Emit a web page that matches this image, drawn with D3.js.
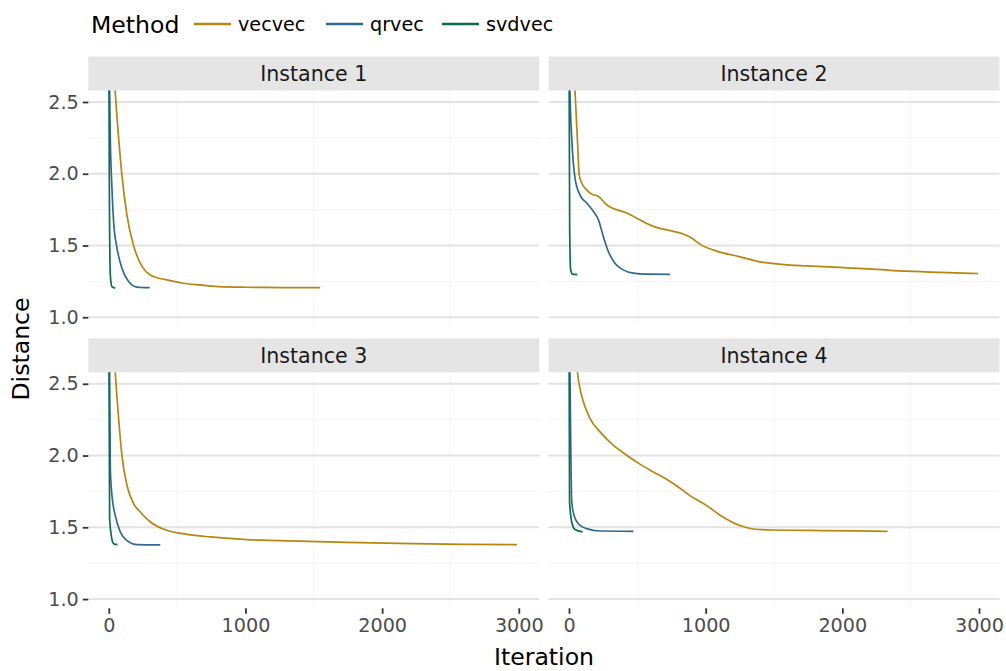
<!DOCTYPE html>
<html>
<head>
<meta charset="utf-8">
<script src="https://cdn.jsdelivr.net/npm/d3@7"></script>
<style>
  body { margin: 0; background: white; }
  text { font-family: "DejaVu Sans", sans-serif; }
</style>
</head>
<body>
<div id="chart"></div>
<script>
// methods and colours
const methods = ['vecvec', 'qrvec', 'svdvec'];
const methodColors = ['#b5870f', '#2f6b8f', '#0b6e4f'];
const instances = ['Instance 1', 'Instance 2', 'Instance 3', 'Instance 4'];

// [iteration, distance]
const inst1_vecvec = [[0, 4.0], [20, 3.1], [47, 2.575], [72, 2.25], [96, 1.99], [133, 1.71], [181, 1.5], [243, 1.355], [304, 1.295], [425, 1.26], [547, 1.237], [669, 1.225], [803, 1.214], [1000, 1.209], [1250, 1.207], [1547, 1.206]];
const inst1_qrvec = [[0, 3.2], [6, 2.575], [11, 2.25], [23, 1.9], [35, 1.668], [60, 1.482], [96, 1.342], [145, 1.249], [206, 1.21], [250, 1.207], [299, 1.206]];
const inst1_svdvec = [[0, 3.0], [4, 1.9], [11, 1.295], [23, 1.214], [47, 1.203]];

const inst2_vecvec = [[0, 4.0], [20, 3.2], [44, 2.575], [61, 2.25], [75, 1.99], [93, 1.935], [129, 1.888], [166, 1.858], [215, 1.842], [276, 1.784], [422, 1.726], [617, 1.633], [763, 1.598], [830, 1.582], [900, 1.55], [960, 1.508], [1080, 1.461], [1251, 1.421], [1397, 1.386], [1617, 1.363], [1739, 1.358], [1982, 1.347], [2226, 1.335], [2470, 1.321], [2714, 1.312], [2994, 1.305]];
const inst2_qrvec = [[0, 3.2], [7, 2.575], [20, 2.25], [44, 1.97], [80, 1.853], [129, 1.796], [178, 1.738], [215, 1.679], [251, 1.563], [288, 1.458], [336, 1.377], [397, 1.33], [470, 1.307], [568, 1.3], [739, 1.299]];
const inst2_svdvec = [[0, 3.0], [5, 1.6], [12, 1.33], [25, 1.3], [61, 1.297]];

const inst3_vecvec = [[0, 4.0], [20, 3.1], [47, 2.584], [72, 2.258], [96, 2.0], [133, 1.793], [181, 1.665], [230, 1.607], [304, 1.537], [425, 1.479], [572, 1.451], [743, 1.433], [1011, 1.414], [1255, 1.407], [1743, 1.395], [2230, 1.386], [2596, 1.381], [2986, 1.379]];
const inst3_qrvec = [[0, 3.2], [6, 2.584], [11, 1.909], [23, 1.723], [47, 1.583], [84, 1.468], [133, 1.407], [206, 1.379], [377, 1.377]];
const inst3_svdvec = [[0, 3.0], [6, 1.56], [18, 1.444], [35, 1.386], [64, 1.379]];

const inst4_vecvec = [[0, 4.0], [20, 3.3], [40, 2.85], [61, 2.584], [80, 2.468], [105, 2.375], [154, 2.258], [227, 2.165], [324, 2.072], [422, 2.002], [519, 1.94], [617, 1.886], [714, 1.835], [800, 1.781], [885, 1.721], [1007, 1.651], [1129, 1.57], [1251, 1.512], [1348, 1.488], [1495, 1.481], [1860, 1.477], [2331, 1.472]];
const inst4_qrvec = [[0, 3.2], [7, 2.584], [20, 1.677], [37, 1.583], [68, 1.525], [129, 1.491], [227, 1.474], [471, 1.472]];
const inst4_svdvec = [[0, 3.0], [4, 1.677], [20, 1.537], [44, 1.484], [100, 1.468]];

const xTicks = [0, 1000, 2000, 3000];
const xMinor = [500, 1500, 2500];
const yTicks = [1.0, 1.5, 2.0, 2.5];
const yMinor = [1.25, 1.75, 2.25];

const series = [
    [inst1_vecvec, inst1_qrvec, inst1_svdvec],
    [inst2_vecvec, inst2_qrvec, inst2_svdvec],
    [inst3_vecvec, inst3_qrvec, inst3_svdvec],
    [inst4_vecvec, inst4_qrvec, inst4_svdvec]
];

const width = 1006;
const height = 671;
const panelW = 451;
const plotH = 234.5;
const stripH = 34;
const panelX = [88.3, 548.5];
const stripY = [56.5, 338.3];

const svg = d3.select('#chart')
    .append('svg')
    .attr('width', width)
    .attr('height', height);

const x = d3.scaleLinear().domain([-150, 3150]).range([0, panelW]);
const y = d3.scaleLinear().domain([0.946, 2.58]).range([plotH, 0]);

const line = d3.line()
    .x(function (d) { return x(d[0]); })
    .y(function (d) { return y(d[1]); })
    .curve(d3.curveMonotoneX);

instances.forEach(function (name, i) {
    const col = i % 2;
    const row = Math.floor(i / 2);
    const g = svg.append('g')
        .attr('transform', 'translate(' + panelX[col] + ',' + stripY[row] + ')');

    // strip
    g.append('rect')
        .attr('width', panelW)
        .attr('height', stripH)
        .attr('fill', '#e5e5e5');
    g.append('text')
        .attr('x', panelW / 2)
        .attr('y', stripH / 2 + 7.5)
        .attr('text-anchor', 'middle')
        .attr('font-size', 20.6)
        .attr('fill', '#1a1a1a')
        .text(name);

    const p = g.append('g').attr('transform', 'translate(0,' + stripH + ')');

    p.append('clipPath')
        .attr('id', 'clip' + i)
        .append('rect')
        .attr('width', panelW)
        .attr('height', plotH);

    // grid
    p.selectAll('.xminor').data(xMinor).enter().append('line')
        .attr('x1', x).attr('x2', x)
        .attr('y1', 0).attr('y2', plotH)
        .attr('stroke', '#f6f6f6').attr('stroke-width', 1);
    p.selectAll('.yminor').data(yMinor).enter().append('line')
        .attr('x1', 0).attr('x2', panelW)
        .attr('y1', y).attr('y2', y)
        .attr('stroke', '#f4f4f4').attr('stroke-width', 1);
    p.selectAll('.ymajor').data(yTicks).enter().append('line')
        .attr('x1', 0).attr('x2', panelW)
        .attr('y1', y).attr('y2', y)
        .attr('stroke', '#e3e3e3').attr('stroke-width', 2);

    // lines
    const lines = p.append('g').attr('clip-path', 'url(#clip' + i + ')');
    series[i].forEach(function (data, m) {
        lines.append('path')
            .datum(data)
            .attr('fill', 'none')
            .attr('stroke', methodColors[m])
            .attr('stroke-width', 1.7)
            .attr('d', line);
    });

    // y axis on left column
    if (col === 0) {
        const ya = p.append('g')
            .call(d3.axisLeft(y).tickValues(yTicks).tickFormat(d3.format('.1f')).tickSize(5.5).tickPadding(4));
        ya.select('.domain').remove();
        ya.selectAll('line').attr('stroke', '#333').attr('stroke-width', 1.8);
        ya.selectAll('text').attr('font-size', 19.2).attr('fill', '#4d4d4d')
            .attr('font-family', '"DejaVu Sans", sans-serif');
    }
    // x axis on bottom row
    if (row === 1) {
        const xa = p.append('g')
            .attr('transform', 'translate(0,' + (plotH + 1.5) + ')')
            .call(d3.axisBottom(x).tickValues(xTicks).tickFormat(d3.format('d')).tickSize(5.5).tickPadding(5));
        xa.select('.domain').remove();
        xa.selectAll('line').attr('stroke', '#333').attr('stroke-width', 1.8);
        xa.selectAll('text').attr('font-size', 19.2).attr('fill', '#4d4d4d')
            .attr('font-family', '"DejaVu Sans", sans-serif');
    }
});

// axis titles
svg.append('text')
    .attr('x', 544)
    .attr('y', 665)
    .attr('text-anchor', 'middle')
    .attr('font-size', 23.6)
    .attr('fill', 'black')
    .text('Iteration');

svg.append('text')
    .attr('transform', 'translate(29,349) rotate(-90)')
    .attr('text-anchor', 'middle')
    .attr('font-size', 23.6)
    .attr('fill', 'black')
    .text('Distance');

// legend
const legend = svg.append('g');
legend.append('text')
    .attr('x', 91)
    .attr('y', 32.5)
    .attr('font-size', 23.6)
    .attr('fill', 'black')
    .text('Method');

const keyX = [194, 326, 442];
methods.forEach(function (m, k) {
    legend.append('line')
        .attr('x1', keyX[k]).attr('x2', keyX[k] + 37)
        .attr('y1', 24).attr('y2', 24)
        .attr('stroke', methodColors[k])
        .attr('stroke-width', 2.6);
    legend.append('text')
        .attr('x', keyX[k] + 44)
        .attr('y', 31)
        .attr('font-size', 19.2)
        .attr('fill', 'black')
        .text(m);
});
</script>
</body>
</html>
